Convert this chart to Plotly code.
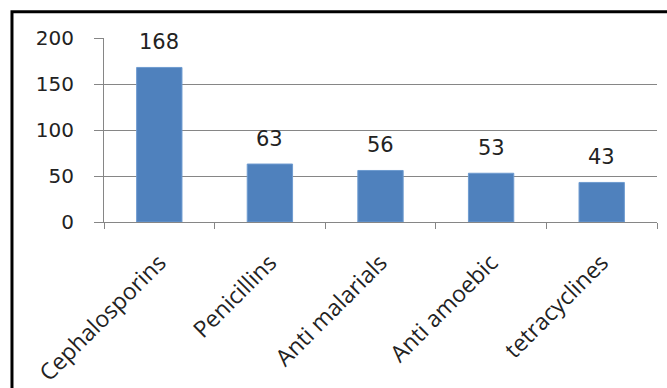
import plotly.graph_objects as go

categories = ["Cephalosporins", "Penicillins", "Anti malarials", "Anti amoebic", "tetracyclines"]
values = [168, 63, 56, 53, 43]
y_ticks = [0, 50, 100, 150, 200]

BAR = "#4F81BD"
GRID = "#868686"
TEXT = "#222222"

fig = go.Figure(
    go.Bar(
        x=categories,
        y=values,
        marker=dict(color=BAR, line=dict(color="#6E9BD0", width=1)),
        width=0.41,
        hoverinfo="skip",
    )
)

# value labels sitting above each bar
for c, v in zip(categories, values):
    fig.add_annotation(
        x=c, y=v, text=str(v), showarrow=False, yshift=25,
        font=dict(family="DejaVu Sans", size=21, color=TEXT),
    )

# black frame around the chart
fig.add_shape(
    type="rect", xref="paper", yref="paper",
    x0=-0.1664, x1=1.2, y0=-1.2, y1=1.142,
    line=dict(color="black", width=3), fillcolor="rgba(0,0,0,0)", layer="above",
)

fig.update_layout(
    width=667,
    height=388,
    margin=dict(l=104, r=10, t=38, b=166, autoexpand=False),
    paper_bgcolor="white",
    plot_bgcolor="white",
    showlegend=False,
    bargap=0.59,
    font=dict(family="DejaVu Sans", size=20, color=TEXT),
    xaxis=dict(
        automargin=False,
        showgrid=False,
        showline=True,
        linecolor=GRID,
        linewidth=1,
        ticks="outside",
        tickson="boundaries",
        ticklen=6,
        tickcolor=GRID,
        tickangle=-45,
        ticklabelstandoff=17,
        tickfont=dict(family="Open Sans", size=23, color=TEXT),
    ),
    yaxis=dict(
        automargin=False,
        range=[0, 200],
        tickvals=y_ticks,
        showgrid=True,
        gridcolor=GRID,
        gridwidth=1,
        showline=True,
        linecolor=GRID,
        ticks="outside",
        ticklen=9,
        tickcolor=GRID,
        zeroline=False,
        ticklabelstandoff=16,
        tickfont=dict(family="DejaVu Sans", size=20, color=TEXT),
    ),
)

fig.write_html("out.html")
